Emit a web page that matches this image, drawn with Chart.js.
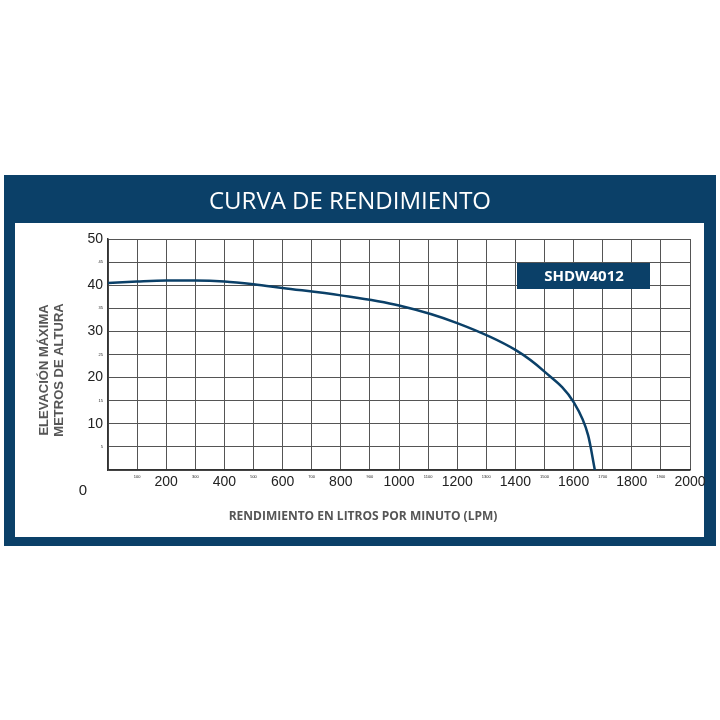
<!DOCTYPE html>
<html>
<head>
<meta charset="utf-8">
<script src="https://cdn.jsdelivr.net/npm/chart.js@4.4.1/dist/chart.umd.min.js"></script>
<style>html,body{margin:0;padding:0;background:#fff}#wrap{width:720px;height:720px}</style>
</head>
<body>
<div id="wrap"><canvas id="chart" width="720" height="720"></canvas></div>
<script>
const flowLpm = [0, 100, 200, 300, 400, 500, 600, 800, 1000, 1200, 1400, 1500, 1600, 1650, 1673];
const headM = [40.5, 40.8, 41, 41, 40.8, 40.2, 39.4, 37.8, 35.6, 31.8, 26, 21.3, 14.7, 7.5, 0];
const title = "CURVA DE RENDIMIENTO";
const model = "SHDW4012";
const xTitle = "RENDIMIENTO EN LITROS POR MINUTO (LPM)";
const yTitle = ["ELEVACIÓN MÁXIMA", "METROS DE ALTURA"];
const navy = "#0b4068";

const frame = {
    id: "frame",
    beforeDraw(c) {
        const ctx = c.ctx;
        ctx.save();
        ctx.fillStyle = navy;
        ctx.fillRect(4, 175, 712, 371);
        ctx.fillStyle = "#fff";
        ctx.fillRect(15, 223, 689, 314);
        ctx.restore();
    },
    afterDraw(c) {
        const ctx = c.ctx;
        ctx.save();
        ctx.fillStyle = "#fff";
        ctx.font = "24px 'Open Sans', sans-serif";
        ctx.textAlign = "center";
        ctx.textBaseline = "middle";
        ctx.fillText(title, 350, 202);
        ctx.fillStyle = navy;
        ctx.fillRect(517, 263, 133, 26);
        ctx.fillStyle = "#fff";
        ctx.font = "bold 15px 'Open Sans', sans-serif";
        ctx.fillText(model, 584, 277);
        ctx.fillStyle = "#555";
        ctx.font = "bold 12px 'Open Sans', sans-serif";
        ctx.fillText(xTitle, 363, 517);
        ctx.font = "bold 13px 'Liberation Sans', sans-serif";
        ctx.translate(52, 370);
        ctx.rotate(-Math.PI / 2);
        ctx.fillText(yTitle[0], 0, -8);
        ctx.fillText(yTitle[1], 0, 7);
        ctx.restore();
        ctx.save();
        ctx.fillStyle = "#222";
        ctx.font = "15px 'Liberation Sans', sans-serif";
        ctx.textAlign = "center";
        ctx.textBaseline = "middle";
        ctx.fillText("0", 83, 491);
        ctx.restore();
    }
};

new Chart(document.getElementById("chart"), {
    type: "line",
    data: {
        datasets: [{
            data: flowLpm.map((x, i) => ({ x: x, y: headM[i] })),
            borderColor: navy,
            borderWidth: 2.5,
            pointRadius: 0,
            cubicInterpolationMode: "monotone",
            fill: false
        }]
    },
    options: {
        responsive: false,
        animation: false,
        layout: { padding: { top: 239, right: 30, left: 0, bottom: 0 } },
        plugins: { legend: { display: false }, tooltip: { enabled: false } },
        scales: {
            x: {
                type: "linear", min: 0, max: 2000,
                afterFit: s => { s.height = 250; },
                grid: { color: "#555", lineWidth: 1, drawTicks: false },
                border: { color: "#333", width: 1.5 },
                ticks: {
                    stepSize: 100, padding: 4, color: "#222", maxRotation: 0, autoSkip: false,
                    callback: v => v === 0 ? "" : v,
                    font: ctx => (ctx.tick && ctx.tick.value % 200 === 0)
                        ? { size: 14, family: "'Liberation Sans', sans-serif" }
                        : { size: 4, family: "'Liberation Sans', sans-serif" }
                }
            },
            y: {
                min: 0, max: 50,
                afterFit: s => { s.width = 108; },
                grid: { color: "#555", lineWidth: 1, drawTicks: false },
                border: { color: "#333", width: 1.5 },
                ticks: {
                    stepSize: 5, padding: 5, color: "#222", autoSkip: false,
                    callback: v => v === 0 ? "" : v,
                    font: ctx => (ctx.tick && ctx.tick.value % 10 === 0)
                        ? { size: 14, family: "'Liberation Sans', sans-serif" }
                        : { size: 4, family: "'Liberation Sans', sans-serif" }
                }
            }
        }
    },
    plugins: [frame]
});
</script>
</body>
</html>
